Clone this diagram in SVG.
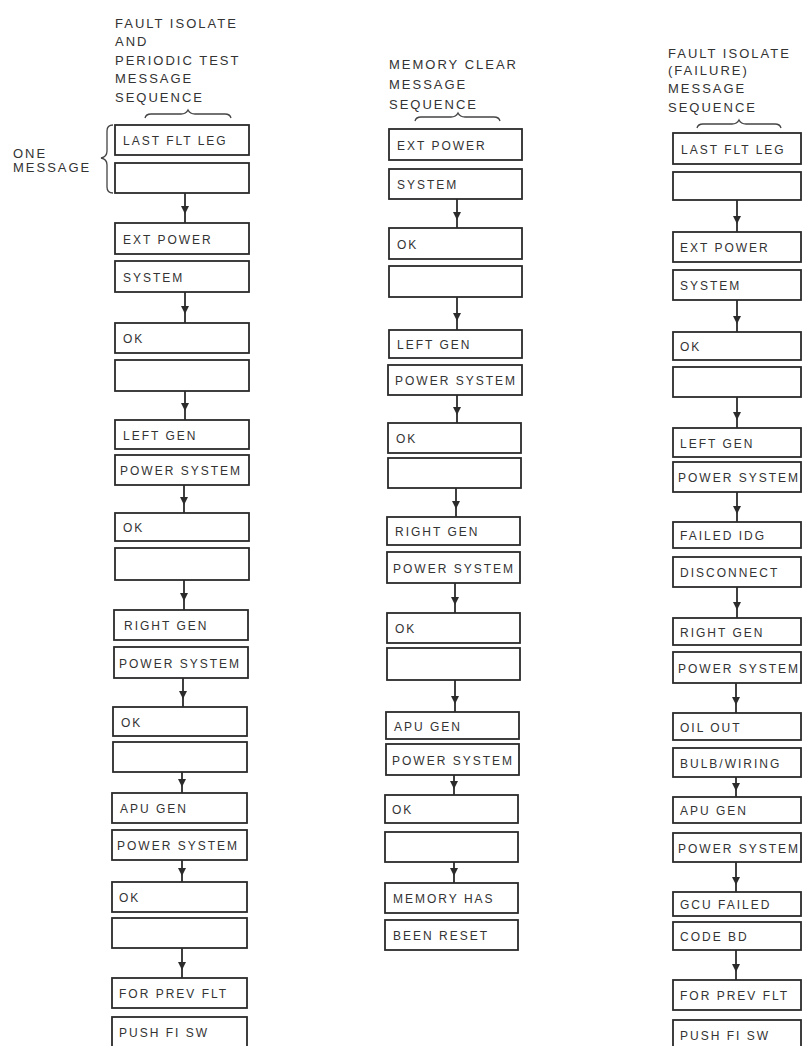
<svg xmlns="http://www.w3.org/2000/svg" width="802" height="1046" viewBox="0 0 802 1046">
  <style>
    .box { fill: #ffffff; stroke: #2b2b2b; stroke-width: 1.8; }
    .lbl { font-family: "Liberation Sans", Arial, sans-serif; font-size: 12px; letter-spacing: 2px; fill: #333333; }
    .hdr { font-family: "Liberation Sans", Arial, sans-serif; font-size: 13px; letter-spacing: 2px; fill: #333333; }
    .conn { fill: none; stroke: #2b2b2b; stroke-width: 1.8; marker-mid: url(#head); }
    .brace { fill: none; stroke: #444444; stroke-width: 1.3; }
  </style>
  <defs>
    <marker id="head" viewBox="0 0 8 8" refX="8" refY="4" markerWidth="8" markerHeight="8" markerUnits="userSpaceOnUse" orient="auto">
      <path d="M0,0 L8,4 L0,8 z" fill="#2b2b2b"/>
    </marker>
  </defs>
  <rect width="802" height="1046" fill="#ffffff"/>

  <!-- column headings -->
  <g id="heading-fault-isolate-periodic">
    <text class="hdr" x="115" y="28">FAULT ISOLATE</text>
    <text class="hdr" x="115" y="46">AND</text>
    <text class="hdr" x="115" y="65">PERIODIC TEST</text>
    <text class="hdr" x="115" y="83">MESSAGE</text>
    <text class="hdr" x="115" y="102">SEQUENCE</text>
    <path class="brace" d="M145 118 Q146 114 151 114 L181 114 Q186 114 188 110 Q190 114 195 114 L225 114 Q230 114 231 118"/>
  </g>
  <g id="heading-memory-clear">
    <text class="hdr" x="389" y="69">MEMORY CLEAR</text>
    <text class="hdr" x="389" y="89">MESSAGE</text>
    <text class="hdr" x="389" y="109">SEQUENCE</text>
    <path class="brace" d="M415 121 Q416 117 421 117 L451 117 Q456 117 458 113 Q460 117 465 117 L494 117 Q499 117 500 121"/>
  </g>
  <g id="heading-fault-isolate-failure">
    <text class="hdr" x="668" y="58">FAULT ISOLATE</text>
    <text class="hdr" x="668" y="75">(FAILURE)</text>
    <text class="hdr" x="668" y="93">MESSAGE</text>
    <text class="hdr" x="668" y="112">SEQUENCE</text>
    <path class="brace" d="M697 128 Q698 124 703 124 L732 124 Q737 124 739 120 Q741 124 746 124 L775 124 Q780 124 781 128"/>
  </g>
  <g id="one-message-note">
    <text class="hdr" x="13" y="158">ONE</text>
    <text class="hdr" x="13" y="172">MESSAGE</text>
    <path class="brace" d="M113 125 Q107 125 107 131 L107 151 Q107 157 101 158 Q107 159 107 165 L107 187 Q107 193 113 193"/>
  </g>

  <!-- left column: fault isolate and periodic test -->
  <g id="c1-n01"><rect class="box" x="115" y="125" width="134" height="30"/><text class="lbl" x="123" y="145">LAST FLT LEG</text></g>
  <g id="c1-n02"><rect class="box" x="115" y="163" width="134" height="30"/></g>
  <g id="c1-n03"><rect class="box" x="115" y="223" width="134" height="31"/><text class="lbl" x="123" y="244">EXT POWER</text></g>
  <g id="c1-n04"><rect class="box" x="115" y="261" width="134" height="31"/><text class="lbl" x="123" y="282">SYSTEM</text></g>
  <g id="c1-n05"><rect class="box" x="115" y="323" width="134" height="30"/><text class="lbl" x="123" y="343">OK</text></g>
  <g id="c1-n06"><rect class="box" x="115" y="360" width="134" height="31"/></g>
  <g id="c1-n07"><rect class="box" x="115" y="420" width="134" height="29"/><text class="lbl" x="123" y="440">LEFT GEN</text></g>
  <g id="c1-n08"><rect class="box" x="115" y="455" width="134" height="30"/><text class="lbl" x="120" y="475">POWER SYSTEM</text></g>
  <g id="c1-n09"><rect class="box" x="115" y="513" width="134" height="28"/><text class="lbl" x="123" y="532">OK</text></g>
  <g id="c1-n10"><rect class="box" x="115" y="548" width="134" height="32"/></g>
  <g id="c1-n11"><rect class="box" x="114" y="610" width="134" height="30"/><text class="lbl" x="124" y="630">RIGHT GEN</text></g>
  <g id="c1-n12"><rect class="box" x="114" y="647" width="134" height="31"/><text class="lbl" x="119" y="668">POWER SYSTEM</text></g>
  <g id="c1-n13"><rect class="box" x="113" y="707" width="134" height="29"/><text class="lbl" x="121" y="727">OK</text></g>
  <g id="c1-n14"><rect class="box" x="113" y="742" width="134" height="30"/></g>
  <g id="c1-n15"><rect class="box" x="112" y="793" width="135" height="30"/><text class="lbl" x="120" y="813">APU GEN</text></g>
  <g id="c1-n16"><rect class="box" x="112" y="830" width="135" height="30"/><text class="lbl" x="117" y="850">POWER SYSTEM</text></g>
  <g id="c1-n17"><rect class="box" x="112" y="882" width="135" height="30"/><text class="lbl" x="119" y="902">OK</text></g>
  <g id="c1-n18"><rect class="box" x="112" y="918" width="135" height="30"/></g>
  <g id="c1-n19"><rect class="box" x="112" y="978" width="135" height="30"/><text class="lbl" x="119" y="998">FOR PREV FLT</text></g>
  <g id="c1-n20"><rect class="box" x="112" y="1017" width="135" height="34"/><text class="lbl" x="119" y="1037">PUSH FI SW</text></g>

  <!-- middle column: memory clear -->
  <g id="c2-n01"><rect class="box" x="389" y="129" width="133" height="31"/><text class="lbl" x="397" y="150">EXT POWER</text></g>
  <g id="c2-n02"><rect class="box" x="389" y="169" width="133" height="30"/><text class="lbl" x="397" y="189">SYSTEM</text></g>
  <g id="c2-n03"><rect class="box" x="389" y="228" width="133" height="31"/><text class="lbl" x="397" y="249">OK</text></g>
  <g id="c2-n04"><rect class="box" x="389" y="266" width="133" height="31"/></g>
  <g id="c2-n05"><rect class="box" x="389" y="330" width="133" height="28"/><text class="lbl" x="397" y="349">LEFT GEN</text></g>
  <g id="c2-n06"><rect class="box" x="388" y="365" width="134" height="30"/><text class="lbl" x="395" y="385">POWER SYSTEM</text></g>
  <g id="c2-n07"><rect class="box" x="388" y="423" width="133" height="30"/><text class="lbl" x="396" y="443">OK</text></g>
  <g id="c2-n08"><rect class="box" x="388" y="458" width="133" height="30"/></g>
  <g id="c2-n09"><rect class="box" x="387" y="517" width="133" height="28"/><text class="lbl" x="395" y="536">RIGHT GEN</text></g>
  <g id="c2-n10"><rect class="box" x="387" y="552" width="133" height="31"/><text class="lbl" x="393" y="573">POWER SYSTEM</text></g>
  <g id="c2-n11"><rect class="box" x="387" y="613" width="133" height="30"/><text class="lbl" x="395" y="633">OK</text></g>
  <g id="c2-n12"><rect class="box" x="387" y="648" width="133" height="32"/></g>
  <g id="c2-n13"><rect class="box" x="386" y="712" width="133" height="27"/><text class="lbl" x="394" y="731">APU GEN</text></g>
  <g id="c2-n14"><rect class="box" x="386" y="744" width="133" height="31"/><text class="lbl" x="392" y="765">POWER SYSTEM</text></g>
  <g id="c2-n15"><rect class="box" x="385" y="795" width="133" height="28"/><text class="lbl" x="392" y="814">OK</text></g>
  <g id="c2-n16"><rect class="box" x="385" y="832" width="133" height="30"/></g>
  <g id="c2-n17"><rect class="box" x="385" y="883" width="133" height="30"/><text class="lbl" x="393" y="903">MEMORY HAS</text></g>
  <g id="c2-n18"><rect class="box" x="385" y="920" width="133" height="30"/><text class="lbl" x="393" y="940">BEEN RESET</text></g>

  <!-- right column: fault isolate (failure) -->
  <g id="c3-n01"><rect class="box" x="673" y="133" width="128" height="31"/><text class="lbl" x="681" y="154">LAST FLT LEG</text></g>
  <g id="c3-n02"><rect class="box" x="673" y="172" width="128" height="28"/></g>
  <g id="c3-n03"><rect class="box" x="673" y="232" width="128" height="30"/><text class="lbl" x="680" y="252">EXT POWER</text></g>
  <g id="c3-n04"><rect class="box" x="673" y="270" width="128" height="30"/><text class="lbl" x="680" y="290">SYSTEM</text></g>
  <g id="c3-n05"><rect class="box" x="673" y="332" width="128" height="28"/><text class="lbl" x="680" y="351">OK</text></g>
  <g id="c3-n06"><rect class="box" x="673" y="367" width="128" height="30"/></g>
  <g id="c3-n07"><rect class="box" x="673" y="428" width="128" height="29"/><text class="lbl" x="680" y="448">LEFT GEN</text></g>
  <g id="c3-n08"><rect class="box" x="673" y="462" width="128" height="30"/><text class="lbl" x="678" y="482">POWER SYSTEM</text></g>
  <g id="c3-n09"><rect class="box" x="673" y="522" width="128" height="26"/><text class="lbl" x="680" y="540">FAILED IDG</text></g>
  <g id="c3-n10"><rect class="box" x="673" y="557" width="128" height="30"/><text class="lbl" x="680" y="577">DISCONNECT</text></g>
  <g id="c3-n11"><rect class="box" x="673" y="618" width="128" height="27"/><text class="lbl" x="680" y="637">RIGHT GEN</text></g>
  <g id="c3-n12"><rect class="box" x="673" y="652" width="128" height="31"/><text class="lbl" x="678" y="673">POWER SYSTEM</text></g>
  <g id="c3-n13"><rect class="box" x="673" y="713" width="128" height="27"/><text class="lbl" x="680" y="732">OIL OUT</text></g>
  <g id="c3-n14"><rect class="box" x="673" y="748" width="128" height="29"/><text class="lbl" x="680" y="768">BULB/WIRING</text></g>
  <g id="c3-n15"><rect class="box" x="673" y="797" width="128" height="26"/><text class="lbl" x="680" y="815">APU GEN</text></g>
  <g id="c3-n16"><rect class="box" x="673" y="833" width="128" height="29"/><text class="lbl" x="678" y="853">POWER SYSTEM</text></g>
  <g id="c3-n17"><rect class="box" x="673" y="892" width="128" height="24"/><text class="lbl" x="680" y="909">GCU FAILED</text></g>
  <g id="c3-n18"><rect class="box" x="673" y="922" width="128" height="28"/><text class="lbl" x="680" y="941">CODE BD</text></g>
  <g id="c3-n19"><rect class="box" x="673" y="980" width="128" height="30"/><text class="lbl" x="680" y="1000">FOR PREV FLT</text></g>
  <g id="c3-n20"><rect class="box" x="673" y="1020" width="128" height="34"/><text class="lbl" x="680" y="1040">PUSH FI SW</text></g>

  <!-- arrows between messages -->
  <g id="connectors">
    <path class="conn" d="M185 193 V214 V223"/>
    <path class="conn" d="M185 292 V314 V323"/>
    <path class="conn" d="M185 391 V411 V420"/>
    <path class="conn" d="M184 485 V505 V513"/>
    <path class="conn" d="M184 580 V601 V610"/>
    <path class="conn" d="M183 678 V699 V707"/>
    <path class="conn" d="M182 772 V787 V793"/>
    <path class="conn" d="M182 860 V876 V882"/>
    <path class="conn" d="M182 948 V970 V978"/>

    <path class="conn" d="M457 199 V220 V228"/>
    <path class="conn" d="M457 297 V321 V330"/>
    <path class="conn" d="M457 395 V415 V423"/>
    <path class="conn" d="M456 488 V509 V517"/>
    <path class="conn" d="M455 583 V605 V613"/>
    <path class="conn" d="M455 680 V704 V712"/>
    <path class="conn" d="M454 775 V789 V795"/>
    <path class="conn" d="M454 862 V876 V883"/>

    <path class="conn" d="M737 200 V224 V232"/>
    <path class="conn" d="M737 300 V324 V332"/>
    <path class="conn" d="M737 397 V420 V428"/>
    <path class="conn" d="M737 492 V514 V522"/>
    <path class="conn" d="M737 587 V610 V618"/>
    <path class="conn" d="M736 683 V705 V713"/>
    <path class="conn" d="M736 777 V791 V797"/>
    <path class="conn" d="M736 862 V885 V892"/>
    <path class="conn" d="M736 950 V972 V980"/>
  </g>
</svg>
